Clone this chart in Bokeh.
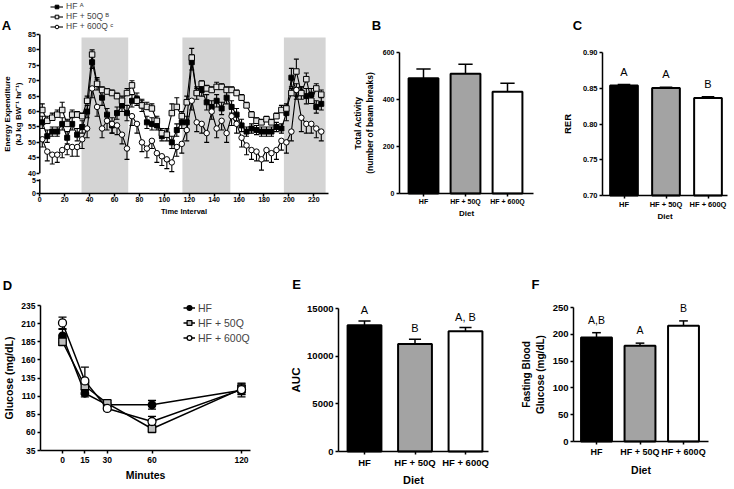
from bokeh.plotting import figure
from bokeh.layouts import column, row
from bokeh.models import (ColumnDataSource, FixedTicker, Range1d, Legend, LegendItem,
                          Label, LabelSet, NumeralTickFormatter)
from bokeh.core.properties import value
from bokeh.embed import file_html
from bokeh.resources import INLINE

FONT = "Liberation Sans"

# ---------------- Panel A data ----------------
time_interval = [2, 6, 10, 14, 18, 22, 26, 30, 34, 38, 42, 46, 50, 54, 58, 62, 66, 70, 74, 78,
                 82, 86, 90, 94, 98, 102, 106, 110, 114, 118, 122, 126, 130, 134, 138, 142, 146,
                 150, 154, 158, 162, 166, 170, 174, 178, 182, 186, 190, 194, 198, 202, 206, 210,
                 214, 218, 222, 226]
ee_hf = [56.5, 52, 53.5, 53.5, 56, 51.5, 56, 52.5, 55, 60,
         76, 69, 64.5, 59, 55.5, 59.5, 62, 59.5, 63.5, 64,
         62, 56.5, 56, 55.5, 52, 52.5, 50, 54, 56.5, 56.5,
         76, 66, 67, 63, 61.5, 63.5, 61, 64.5, 61.5, 59,
         55.5, 53.5, 54.5, 54, 53.5, 53.5, 53.5, 55, 54.5, 59.5,
         71, 67, 66, 65, 65.5, 61.5, 62.5]
ee_hf_err = [2, 2, 1.5, 1.5, 2, 2, 2, 2, 2, 2,
             2, 2, 2.5, 2, 2.5, 2, 2, 2.5, 2, 2,
             2, 2, 2, 1.5, 1.5, 2, 2, 2, 2, 2,
             2.5, 2, 2, 2.5, 2, 2, 2, 2, 2, 2,
             2, 1.5, 1.5, 1.5, 1.5, 1.5, 1.5, 1.5, 1.5, 2.5,
             3, 2, 2, 2.5, 2, 2, 2]
ee_50q = [60.5, 57, 58, 59, 60.5, 56, 59, 59, 58.5, 63.5,
          78.5, 69, 67, 66.5, 66, 65, 63.5, 66, 68.5, 63.5,
          62, 61.5, 61, 57, 53, 52.5, 59.5, 61.5, 58.5, 63,
          77.5, 66, 69, 67.5, 67, 68, 68, 67, 67, 66,
          64.5, 62, 59, 57, 56.5, 57.5, 56.5, 58.5, 60.5, 61,
          66, 73, 66, 70.5, 63.5, 67.5, 65.5]
ee_50q_err = [2, 1.5, 1.5, 1.5, 2.5, 1.5, 1.5, 1, 1, 1.5,
              1.5, 1.5, 1, 1, 1, 1, 1.5, 1.5, 1.5, 1.5,
              1.5, 1.5, 1.5, 1.5, 1.5, 1.5, 3, 3, 1.5, 2,
              3, 1.5, 1, 1, 1, 1.5, 1, 1, 1, 1,
              1, 1, 1, 1, 1, 1, 1, 1, 1.5, 1.5,
              1.5, 4, 2, 2, 1.5, 1.5, 1.5]
ee_600q = [51, 47, 46, 46, 47.5, 48.5, 48.5, 48.5, 51, 54.5,
           67.5, 61.5, 54.5, 57, 56, 55.5, 52.5, 48, 58.5, 56,
           50, 48, 50.5, 46.5, 45.5, 44.5, 43.5, 48.5, 49.5, 54,
           63.5, 56.5, 56, 53, 60, 54.5, 57, 53, 58.5, 56,
           51.5, 49, 47.5, 47, 44.5, 47.5, 46.5, 47.5, 50.5, 50,
           53.5, 67, 58, 56, 56, 54.5, 53.5]
ee_600q_err = [2.5, 3, 3, 2.5, 2.5, 2.5, 3, 3, 3, 3,
               3, 3, 3, 3, 3, 3, 3, 3.5, 3, 3,
               3, 3, 2.5, 3, 3, 3, 3, 3, 3, 3.5,
               3, 3, 3, 3, 2.5, 3, 3, 3, 3, 3,
               3, 3, 3, 3, 3.5, 3.5, 3, 3, 3, 3.5,
               3, 3, 4.5, 3, 3, 3, 3]
dark_start = [33.5, 114.5, 196]
dark_end = [71, 153, 229.5]
a_yticks_upper = [40, 45, 50, 55, 60, 65, 70, 75, 80, 85]
a_yticks_lower = [0, 5]
a_xticks = [0, 20, 40, 60, 80, 100, 120, 140, 160, 180, 200, 220]
a_labels = ["HF \u1d2c", "HF + 50Q \u1d2e", "HF + 600Q \u1d9c"]

for arr in (ee_hf, ee_hf_err, ee_50q, ee_50q_err, ee_600q, ee_600q_err):
    assert len(arr) == len(time_interval), len(arr)

# ---------------- Bar panels data ----------------
diets = ["HF", "HF + 50Q", "HF + 600Q"]
bar_colors = ["#000000", "#a3a3a3", "#ffffff"]
activity = [490, 510, 433]
activity_err = [40, 40, 36]
b_yticks = [0, 200, 400, 600]
rer = [0.854, 0.8505, 0.8365]
rer_err = [0.0012, 0.001, 0.0015]
rer_letters = ["A", "A", "B"]
c_yticks = [0.70, 0.75, 0.80, 0.85, 0.90]
auc = [13250, 11280, 12620]
auc_err = [450, 500, 380]
auc_letters = ["A", "B", "A, B"]
e_yticks = [0, 5000, 10000, 15000]
fbg = [194, 178.5, 216]
fbg_err = [9, 5, 9]
fbg_letters = ["A,B", "A", "B"]
f_yticks = [0, 50, 100, 150, 200, 250]

# ---------------- Panel D data ----------------
minutes = [0, 15, 30, 60, 120]
gluc_hf = [193, 114, 98, 98, 118]
gluc_hf_err = [9, 5, 3, 6, 9]
gluc_50q = [185, 124, 100, 65, 120]
gluc_50q_err = [5, 6, 4, 4, 8]
gluc_600q = [211, 131, 93, 75, 119]
gluc_600q_err = [8, 19, 3, 7, 6]
d_yticks = [35, 60, 85, 110, 135, 160, 185, 210, 235]
d_labels = ["HF", "HF + 50Q", "HF + 600Q"]

BREAK_BASE = 33.5
BREAK_SCALE = 0.8


def span_range(v0, p0, v1, p1, size):
    """Range whose values v0/v1 land on pixels p0/p1 of a frame of the given size."""
    b = (p1 - p0) / (v1 - v0)
    e0 = v0 + (0 - p0) / b
    e1 = v0 + (size - p0) / b
    return Range1d(min(e0, e1), max(e0, e1))


def make_fig(width, height, xr, yr):
    p = figure(width=width, height=height, x_range=xr, y_range=yr, output_backend="svg",
               toolbar_location=None, title=None, min_border=0, min_border_left=0,
               min_border_right=0, min_border_top=0, min_border_bottom=0)
    p.grid.visible = False
    p.outline_line_color = None
    p.background_fill_color = "white"
    p.border_fill_color = "white"
    return p


def style_axes(p, tick_px, label_px, xlabel_px, x_loc, y_loc, x_bounds, y_bounds):
    for ax in p.axis:
        ax.axis_line_color = "black"
        ax.axis_line_width = 1.5
        ax.major_tick_line_color = "black"
        ax.major_tick_line_width = 1.5
        ax.major_tick_in = 0
        ax.major_tick_out = 3
        ax.minor_tick_line_color = None
        ax.major_label_text_font = FONT
        ax.major_label_text_font_style = "bold"
        ax.major_label_text_font_size = tick_px
        ax.major_label_text_color = "black"
        ax.major_label_standoff = 2
        ax.axis_label_text_font = FONT
        ax.axis_label_text_font_style = "bold"
        ax.axis_label_text_font_size = label_px
        ax.axis_label_text_color = "black"
        ax.axis_label_standoff = 2
    p.xaxis[0].axis_label_text_font_size = xlabel_px
    p.xaxis[0].fixed_location = y_loc
    p.yaxis[0].fixed_location = x_loc
    p.xaxis[0].bounds = x_bounds
    p.yaxis[0].bounds = y_bounds


def panel_letter(p, txt, fx, fy):
    p.add_layout(Label(x=fx, y=p.height - fy, x_units="screen", y_units="screen", text=txt,
                       text_font=FONT, text_font_style="bold", text_font_size="13px",
                       text_align="center", text_baseline="middle", text_color="black"))


def errorbars(p, xs, ys, errs, mode, half_cap, lw=1.3):
    lo = [y - e if mode in ("down", "both") else y for y, e in zip(ys, errs)]
    hi = [y + e if mode in ("up", "both") else y for y, e in zip(ys, errs)]
    p.segment(x0=xs, y0=lo, x1=xs, y1=hi, line_color="black", line_width=lw)
    cx, cy = [], []
    if mode in ("up", "both"):
        cx += list(xs)
        cy += hi
    if mode in ("down", "both"):
        cx += list(xs)
        cy += lo
    p.segment(x0=[x - half_cap for x in cx], y0=cy, x1=[x + half_cap for x in cx], y1=cy,
              line_color="black", line_width=lw)


def bar_panel(p, vals, errs, base, bar_w, half_cap, letters=None, letter_px="11px",
              letter_off=6):
    xs = [1, 2, 3]
    src = ColumnDataSource(dict(x=xs, top=vals, color=bar_colors))
    p.vbar(x="x", top="top", bottom=base, width=bar_w, fill_color="color",
           line_color="black", line_width=2, source=src)
    errorbars(p, xs, vals, errs, "up", half_cap, lw=1.5)
    if letters:
        lsrc = ColumnDataSource(dict(x=xs, y=[v + e for v, e in zip(vals, errs)], t=letters))
        p.add_layout(LabelSet(x="x", y="y", text="t", source=lsrc, y_offset=letter_off,
                              text_align="center", text_baseline="bottom",
                              text_font=value(FONT), text_font_size=value(letter_px),
                              text_color="black"))


def bar_axes(p):
    xs = [1, 2, 3]
    p.xaxis[0].ticker = FixedTicker(ticks=xs)
    p.xaxis[0].major_label_overrides = {x: d for x, d in zip(xs, diets)}
    p.xaxis[0].axis_label = "Diet"


TOP_H, BOT_H = 220, 269

# ================= Panel A =================
WA = 339
pA = make_fig(WA, TOP_H, span_range(0, 39.3, 220, 313.3, WA),
              span_range(85, 34, 40, 172.7, TOP_H))
pA.quad(left=dark_start, right=dark_end, bottom=BREAK_BASE, top=84,
        fill_color="#d4d4d4", line_color=None)
series_a = [
    (ee_hf, ee_hf_err, "both", "square", "black", 5),
    (ee_50q, ee_50q_err, "up", "square", "#e2e2e2", 5.5),
    (ee_600q, ee_600q_err, "down", "circle", "white", 5.5),
]
for ys, es, mode, mk, fc, sz in series_a:
    errorbars(pA, time_interval, ys, es, mode, 2.0, lw=1.1)
items = []
for (ys, es, mode, mk, fc, sz), lab in zip(series_a, a_labels):
    lr = pA.line(time_interval, ys, line_color="black", line_width=1.1)
    sr = pA.scatter(time_interval, ys, marker=mk, size=sz, fill_color=fc, line_color="black",
                    line_width=1)
    items.append(LegendItem(label=lab, renderers=[lr, sr]))
# broken y-axis line
pA.segment(x0=[0, 0], y0=[40, BREAK_BASE], x1=[0, 0], y1=[85, 38],
           line_color="black", line_width=1.5)
style_axes(pA, "7px", "8px", "7.5px", 0, BREAK_BASE, (0, 232), (BREAK_BASE, 85))
ya = pA.yaxis[0]
lower_pos = [BREAK_BASE + BREAK_SCALE * v for v in a_yticks_lower]
ya.ticker = FixedTicker(ticks=lower_pos + a_yticks_upper)
ya.major_label_overrides = {pos: str(v) for pos, v in zip(lower_pos, a_yticks_lower)}
ya.axis_line_color = None
ya.major_label_standoff = 1
ya.axis_label = "Energy Expenditure\n(kJ kg BW\u207b\u00b9 hr\u207b\u00b9)"
xa = pA.xaxis[0]
xa.ticker = FixedTicker(ticks=a_xticks)
xa.axis_label = "Time Interval"
xa.axis_label_standoff = 1
xa.major_label_standoff = 1
legA = Legend(items=items, location=(50, TOP_H - 31), orientation="vertical",
              glyph_width=13, glyph_height=9, label_height=9, spacing=0, padding=0, margin=0,
              label_standoff=3, label_text_font=FONT, label_text_font_size="8.5px",
              background_fill_alpha=0, border_line_color=None)
pA.add_layout(legA)
panel_letter(pA, "A", 6, 25)

# ================= Panel B =================
WB = 197
pB = make_fig(WB, TOP_H, span_range(1, 84, 3, 168, WB), span_range(600, 52, 0, 193, TOP_H))
bar_panel(pB, activity, activity_err, b_yticks[0], 0.71, 0.17)
style_axes(pB, "7px", "8.5px", "8px", 0.4286, b_yticks[0], (0.4286, 3.62),
           (b_yticks[0], b_yticks[-1]))
bar_axes(pB)
pB.yaxis[0].ticker = FixedTicker(ticks=b_yticks)
pB.yaxis[0].axis_label = "Total Activity\n(number of beam breaks)"
pB.yaxis[0].axis_label_standoff = 5
pB.xaxis[0].axis_label_standoff = 1
pB.xaxis[0].major_label_standoff = 1
panel_letter(pB, "B", 37, 25)

# ================= Panel C =================
WC = 198
pC = make_fig(WC, TOP_H, span_range(1, 87.5, 3, 171.5, WC),
              span_range(0.90, 52, 0.70, 195, TOP_H))
bar_panel(pC, rer, rer_err, c_yticks[0], 0.66, 0.15, rer_letters, "11px", 7)
style_axes(pC, "7.5px", "9.5px", "8px", 0.488, c_yticks[0], (0.488, 3.46),
           (c_yticks[0], c_yticks[-1]))
bar_axes(pC)
pC.yaxis[0].ticker = FixedTicker(ticks=c_yticks)
pC.yaxis[0].formatter = NumeralTickFormatter(format="0.00")
pC.yaxis[0].axis_label = "RER"
pC.yaxis[0].axis_label_standoff = 7
pC.xaxis[0].axis_label_standoff = 0
pC.xaxis[0].major_label_standoff = 1
panel_letter(pC, "C", 41, 25)

# ================= Panel D =================
WD = 262
pD = make_fig(WD, BOT_H, span_range(0, 62, 120, 241, WD), span_range(235, 85, 35, 230, BOT_H))
series_d = [
    (gluc_hf, gluc_hf_err, "circle", "black", 7.5),
    (gluc_50q, gluc_50q_err, "square", "#bdbdbd", 7.5),
    (gluc_600q, gluc_600q_err, "circle", "white", 8),
]
for ys, es, mk, fc, sz in series_d:
    errorbars(pD, minutes, ys, es, "both", 2.7, lw=1.3)
ditems = []
for (ys, es, mk, fc, sz), lab in zip(series_d, d_labels):
    lr = pD.line(minutes, ys, line_color="black", line_width=1.5)
    sr = pD.scatter(minutes, ys, marker=mk, size=sz, fill_color=fc, line_color="black",
                    line_width=1.3)
    ditems.append(LegendItem(label=lab, renderers=[lr, sr]))
style_axes(pD, "8.5px", "10.5px", "10.5px", -14.75, d_yticks[0], (-14.75, 126),
           (d_yticks[0], d_yticks[-1]))
pD.xaxis[0].ticker = FixedTicker(ticks=minutes)
pD.xaxis[0].axis_label = "Minutes"
pD.xaxis[0].major_label_standoff = 3
pD.xaxis[0].axis_label_standoff = 3
pD.yaxis[0].ticker = FixedTicker(ticks=d_yticks)
pD.yaxis[0].axis_label = "Glucose (mg/dL)"
pD.yaxis[0].axis_label_standoff = 3
legD = Legend(items=ditems, location=(183, BOT_H - 125), orientation="vertical",
              glyph_width=12, glyph_height=15, label_height=15, spacing=0, padding=0, margin=0,
              label_standoff=3, label_text_font=FONT, label_text_font_size="10.5px",
              background_fill_alpha=0, border_line_color=None)
pD.add_layout(legD)
panel_letter(pD, "D", 7, 65)

# ================= Panel E =================
WE = 238
pE = make_fig(WE, BOT_H, span_range(1, 102, 3, 203, WE), span_range(15000, 88, 0, 231, BOT_H))
bar_panel(pE, auc, auc_err, e_yticks[0], 0.67, 0.12, auc_letters, "11px", 5)
style_axes(pE, "9.5px", "11.5px", "11px", 0.485, e_yticks[0], (0.485, 3.455),
           (e_yticks[0], e_yticks[-1]))
bar_axes(pE)
pE.yaxis[0].ticker = FixedTicker(ticks=e_yticks)
pE.yaxis[0].axis_label = "AUC"
pE.yaxis[0].axis_label_standoff = 2
pE.xaxis[0].major_label_standoff = 2
pE.xaxis[0].axis_label_standoff = 3
panel_letter(pE, "E", 34, 64)

# ================= Panel F =================
WF = 234
pF = make_fig(WF, BOT_H, span_range(1, 96, 3, 183, WF), span_range(250, 87, 0, 221, BOT_H))
bar_panel(pF, fbg, fbg_err, f_yticks[0], 0.71, 0.1, fbg_letters, "10.5px", 7)
style_axes(pF, "9.5px", "10px", "10.5px", 0.471, f_yticks[0], (0.471, 3.575),
           (f_yticks[0], f_yticks[-1]))
bar_axes(pF)
pF.yaxis[0].ticker = FixedTicker(ticks=f_yticks)
pF.yaxis[0].axis_label = "Fasting Blood\nGlucose (mg/dL)"
pF.yaxis[0].axis_label_standoff = 4
pF.xaxis[0].major_label_text_font_size = "9px"
pF.xaxis[0].major_label_standoff = 2
pF.xaxis[0].axis_label_standoff = 4
panel_letter(pF, "F", 35, 64)

layout = column(row(pA, pB, pC), row(pD, pE, pF))
open("out.html", "w").write(file_html(layout, INLINE))
